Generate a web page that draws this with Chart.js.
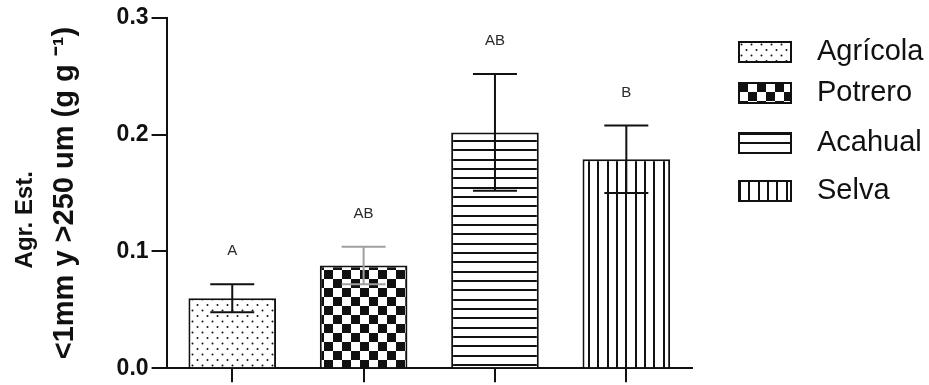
<!DOCTYPE html>
<html>
<head>
<meta charset="utf-8">
<script src="https://cdn.jsdelivr.net/npm/chart.js@4.4.1/dist/chart.umd.min.js"></script>
<style>
  html, body { margin: 0; padding: 0; background: #ffffff; }
  #wrap { width: 929px; height: 385px; }
</style>
</head>
<body>
<div id="wrap"><canvas id="c" width="929" height="385"></canvas></div>
<script>
// Land-use categories and aggregate stability (<1 mm and >250 um), g g-1
const categories = ['Agrícola', 'Potrero', 'Acahual', 'Selva'];
const means = [0.060, 0.088, 0.202, 0.179];
const stdErrors = [0.012, 0.016, 0.050, 0.029];
const groupLetters = ['A', 'AB', 'AB', 'B'];
const yTickValues = [0.0, 0.1, 0.2, 0.3];
const yTitleTop = 'Agr. Est.';
const yTitleBottom = '<1mm y >250 um (g g \u207B\u00B9)';

const canvas = document.getElementById('c');
const ctx = canvas.getContext('2d');
const FONT = '"Liberation Sans", Arial, sans-serif';

// Build a repeating fill from a small tile
function tilePattern(w, h, paint) {
  const t = document.createElement('canvas');
  t.width = w; t.height = h;
  const g = t.getContext('2d');
  g.fillStyle = '#ffffff';
  g.fillRect(0, 0, w, h);
  g.fillStyle = '#111111';
  paint(g, w, h);
  return ctx.createPattern(t, 'repeat');
}

const dots = tilePattern(10, 11, g => {
  g.beginPath(); g.arc(2.5, 2.5, 1.0, 0, Math.PI * 2); g.fill();
  g.beginPath(); g.arc(7.5, 8, 1.0, 0, Math.PI * 2); g.fill();
});
const checker = tilePattern(18, 18, g => {
  g.fillRect(0, 0, 9, 9);
  g.fillRect(9, 9, 9, 9);
});
const hLines = tilePattern(4, 28, (g, w) => {
  g.fillRect(0, 0, w, 2); g.fillRect(0, 9, w, 2); g.fillRect(0, 19, w, 2);
});
const vLines = tilePattern(28, 4, (g, w, h) => {
  g.fillRect(0, 0, 2, h); g.fillRect(9, 0, 2, h); g.fillRect(19, 0, 2, h);
});
const fills = [dots, checker, hLines, vLines];

// Error bars (mean ± SE) and significance letters above each bar
const errorBarPlugin = {
  id: 'errorBars',
  afterDatasetsDraw(chart, args, opts) {
    const y = chart.scales.y;
    const meta = chart.getDatasetMeta(0);
    const c = chart.ctx;
    c.save();
    meta.data.forEach((bar, i) => {
      const top = y.getPixelForValue(means[i] + stdErrors[i]);
      const bot = y.getPixelForValue(means[i] - stdErrors[i]);
      const half = opts.capWidth / 2;
      c.strokeStyle = opts.colors[i];
      c.lineWidth = 2;
      c.beginPath();
      c.moveTo(bar.x, top); c.lineTo(bar.x, bot);
      c.moveTo(bar.x - half, top); c.lineTo(bar.x + half, top);
      c.moveTo(bar.x - half, bot); c.lineTo(bar.x + half, bot);
      c.stroke();
      c.fillStyle = '#2a2a2a';
      c.font = opts.letterFont;
      c.textAlign = 'center';
      c.textBaseline = 'middle';
      c.fillText(groupLetters[i], bar.x, top - opts.letterGap);
    });
    c.restore();
  }
};

// Legend: patterned swatches to the right of the plot
const sideLegendPlugin = {
  id: 'sideLegend',
  afterDraw(chart, args, opts) {
    const c = chart.ctx;
    c.save();
    categories.forEach((name, i) => {
      const cy = opts.rows[i];
      c.save();
      c.translate(opts.x, cy - opts.boxH / 2);
      c.fillStyle = fills[i];
      c.fillRect(0, 0, opts.boxW, opts.boxH);
      c.strokeStyle = '#111111';
      c.lineWidth = 2;
      c.strokeRect(0, 0, opts.boxW, opts.boxH);
      c.restore();
      c.fillStyle = '#111111';
      c.font = opts.font;
      c.textAlign = 'left';
      c.textBaseline = 'middle';
      c.fillText(name, opts.textX, cy);
    });
    c.restore();
  }
};

new Chart(ctx, {
  type: 'bar',
  data: {
    labels: categories,
    datasets: [{
      data: means,
      backgroundColor: fills,
      borderColor: '#111111',
      borderWidth: 2,
      barPercentage: 0.667,
      categoryPercentage: 1.0
    }]
  },
  options: {
    responsive: false,
    animation: false,
    devicePixelRatio: 1,
    layout: { padding: { left: 0, right: 237, top: 18, bottom: 2 } },
    plugins: {
      legend: { display: false },
      tooltip: { enabled: false },
      errorBars: {
        capWidth: 44,
        colors: ['#111111', '#a0a0a0', '#111111', '#111111'],
        letterFont: '15px ' + FONT,
        letterGap: 33
      },
      sideLegend: {
        x: 739, textX: 817, boxW: 52, boxH: 20,
        rows: [52, 93, 143, 191],
        font: '29px ' + FONT
      }
    },
    scales: {
      x: {
        offset: true,
        ticks: { display: false },
        grid: {
          display: true, drawOnChartArea: false, drawTicks: true,
          tickLength: 14, offset: false, color: '#111111', lineWidth: 2
        },
        border: { display: true, color: '#111111', width: 2 }
      },
      y: {
        min: 0, max: 0.3,
        weight: 0,
        afterBuildTicks: axis => { axis.ticks = yTickValues.map(v => ({ value: v })); },
        ticks: {
          padding: 3,
          color: '#111111',
          font: { family: FONT, size: 23, weight: 'bold' },
          callback: v => Number(v).toFixed(1)
        },
        grid: {
          drawOnChartArea: false, drawTicks: true, tickLength: 15,
          color: '#111111', lineWidth: 2
        },
        border: { display: true, color: '#111111', width: 2 },
        title: {
          display: true,
          text: yTitleBottom,
          color: '#111111',
          font: { family: FONT, size: 29, weight: 'bold', lineHeight: 1.2 },
          padding: { top: 8, bottom: 31 }
        }
      },
      // outer title line of the value axis
      yTitle: {
        type: 'linear',
        position: 'left',
        weight: 1,
        min: 0, max: 0.3,
        ticks: { display: false },
        grid: { display: false, drawTicks: false },
        border: { display: false },
        title: {
          display: true,
          text: yTitleTop + '        ',
          color: '#111111',
          font: { family: FONT, size: 24, weight: 'bold', lineHeight: 1.2 },
          padding: { top: 11, bottom: 0 }
        }
      }
    }
  },
  plugins: [errorBarPlugin, sideLegendPlugin]
});
</script>
</body>
</html>
